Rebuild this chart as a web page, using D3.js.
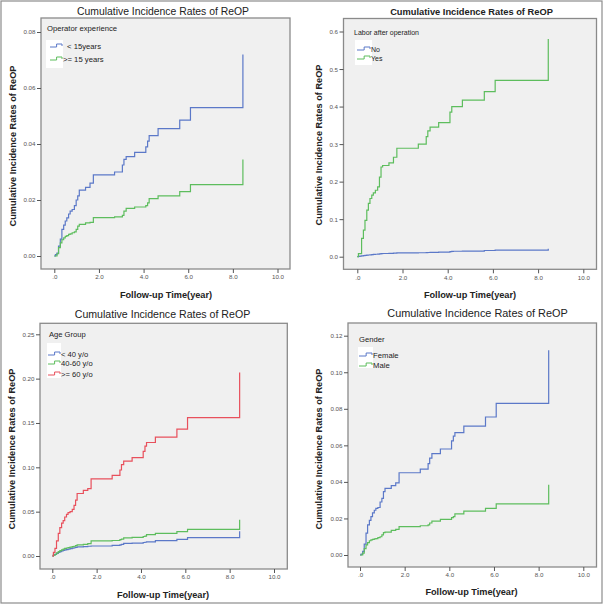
<!DOCTYPE html>
<html>
<head>
<meta charset="utf-8">
<script src="https://cdn.jsdelivr.net/npm/d3@7"></script>
<style>
  body { margin: 0; background: #fff; }
  svg text { font-family: Arial, "Liberation Sans", sans-serif; }
</style>
</head>
<body>
<script>
// event times shared by all curves (years)
const times = [0, 0.05, 0.12, 0.19, 0.27, 0.34, 0.42, 0.49, 0.56, 0.64, 0.71, 0.8, 0.9, 0.98, 1.05, 1.12,
  1.4, 1.6, 1.75, 2.7, 3.05, 3.12, 3.22, 3.6, 4.1, 4.18, 4.25, 4.65, 5.62, 6.1, 8.45];

// operator experience
const opLt15 = [0, 0.0005, 0.001, 0.0035, 0.006, 0.0095, 0.011, 0.0125, 0.0136, 0.015, 0.016, 0.0166, 0.018, 0.020, 0.0215, 0.0235,
  0.0245, 0.026, 0.029, 0.030, 0.0325, 0.0345, 0.0355, 0.037, 0.039, 0.041, 0.043, 0.0455, 0.0485, 0.053, 0.072];
const opGe15 = [0, 0, 0.0008, 0.003, 0.0047, 0.0058, 0.0065, 0.0070, 0.0073, 0.0077, 0.0079, 0.0083, 0.0086, 0.0095, 0.0107, 0.0113,
  0.0118, 0.012, 0.0137, 0.014, 0.0145, 0.016, 0.017, 0.0175, 0.018, 0.019, 0.0205, 0.0215, 0.023, 0.0255, 0.0345];

// labor after operation
const laborNo = [0, 0.001, 0.0015, 0.002, 0.003, 0.0035, 0.004, 0.0045, 0.005, 0.0055, 0.006, 0.0065, 0.007, 0.0075, 0.008, 0.0085,
  0.009, 0.0093, 0.010, 0.0105, 0.011, 0.0112, 0.0115, 0.012, 0.0135, 0.014, 0.0145, 0.015, 0.0165, 0.0175, 0.021];
const laborYes = [0, 0.008, 0.008, 0.049, 0.071, 0.097, 0.124, 0.142, 0.155, 0.164, 0.17, 0.177, 0.186, 0.212, 0.239, 0.243,
  0.25, 0.265, 0.289, 0.30, 0.32, 0.335, 0.345, 0.357, 0.385, 0.40, 0.40, 0.417, 0.44, 0.47, 0.58];

// age group
const ageLt40 = [0, 0.001, 0.0018, 0.003, 0.004, 0.005, 0.0058, 0.0063, 0.0068, 0.0073, 0.0078, 0.0083, 0.0088, 0.0093, 0.0098, 0.0103,
  0.0106, 0.011, 0.0113, 0.012, 0.0125, 0.013, 0.0143, 0.0145, 0.0152, 0.0155, 0.016, 0.0173, 0.0188, 0.0207, 0.028];
const age40to60 = [0, 0.001, 0.002, 0.0035, 0.005, 0.006, 0.007, 0.0078, 0.0085, 0.009, 0.0095, 0.010, 0.0105, 0.011, 0.0118, 0.0125,
  0.013, 0.014, 0.017, 0.0175, 0.0185, 0.019, 0.0205, 0.021, 0.022, 0.0225, 0.024, 0.0255, 0.0275, 0.030, 0.041];
const ageGe60 = [0, 0.004, 0.0086, 0.017, 0.0256, 0.032, 0.037, 0.04, 0.044, 0.047, 0.049, 0.05, 0.0525, 0.057, 0.063, 0.0705,
  0.074, 0.076, 0.087, 0.091, 0.097, 0.103, 0.107, 0.111, 0.118, 0.124, 0.128, 0.134, 0.143, 0.156, 0.207];

// gender
const female = [0, 0.0005, 0.002, 0.006, 0.012, 0.0165, 0.019, 0.021, 0.023, 0.0245, 0.0255, 0.026, 0.029, 0.031, 0.0347, 0.0365,
  0.038, 0.0395, 0.045, 0.047, 0.05, 0.053, 0.0555, 0.058, 0.0625, 0.065, 0.067, 0.0705, 0.0755, 0.083, 0.112];
const male = [0, 0, 0.001, 0.0035, 0.0055, 0.0068, 0.0078, 0.0083, 0.0086, 0.0088, 0.009, 0.0095, 0.010, 0.011, 0.0122, 0.0125,
  0.0135, 0.014, 0.0155, 0.016, 0.0165, 0.0175, 0.0185, 0.0195, 0.0205, 0.021, 0.0225, 0.024, 0.0255, 0.028, 0.0385];

const xTicks = [0, 2, 4, 6, 8, 10];
const yTicks1 = [0, 0.02, 0.04, 0.06, 0.08];
const yTicks2 = [0, 0.1, 0.2, 0.3, 0.4, 0.5, 0.6];
const yTicks3 = [0, 0.05, 0.10, 0.15, 0.20, 0.25];
const yTicks4 = [0, 0.02, 0.04, 0.06, 0.08, 0.10, 0.12];

const BLUE = '#5b78c8', GREEN = '#5dbd5d', RED = '#e8505c';
const TITLE = 'Cumulative Incidence Rates of ReOP';

const panels = [
  { frame: [41, 18, 290, 269], xr: [54.3, 277.5], yr: [256, 32], yTicks: yTicks1, yFmt: '.2f', titleBold: false, titleSize: 10.4,
    title: [163, 15], yTitle: [16, 146], xTitle: [166, 297.5],
    legendTitle: 'Operator experience', lt: [47, 31], lfont: 7.7, box: [46, 40, 17, 28], sx: 50, sw: 12, tx: 67,
    series: [{ name: '< 15years', v: opLt15, c: BLUE, ly: 46 }, { name: '>= 15 years', v: opGe15, c: GREEN, ly: 59, tx: 63 }] },
  { frame: [343.5, 18.5, 596.5, 269.3], xr: [357.3, 583.3], yr: [256.7, 31.5], yTicks: yTicks2, yFmt: '.1f', titleBold: true, titleSize: 9.3,
    title: [471.5, 15], yTitle: [322, 145], xTitle: [470, 297.5],
    legendTitle: 'Labor after operation', lt: [354, 35], lfont: 7, box: [355, 40, 17, 25], sx: 357, sw: 13, tx: 371,
    series: [{ name: 'No', v: laborNo, c: BLUE, ly: 49 }, { name: 'Yes', v: laborYes, c: GREEN, ly: 58 }] },
  { frame: [40, 323.3, 287.3, 569], xr: [52.3, 274], yr: [556, 334.3], yTicks: yTicks3, yFmt: '.2f', titleBold: false, titleSize: 10.6,
    title: [162.5, 318], yTitle: [15, 449], xTitle: [163, 597.5],
    legendTitle: 'Age Group', lt: [49, 337], lfont: 7.6, box: [47, 343, 14, 35], sx: 48, sw: 12, tx: 61,
    series: [{ name: '< 40 y/o', v: ageLt40, c: BLUE, ly: 354 }, { name: '40-60 y/o', v: age40to60, c: GREEN, ly: 363 },
             { name: '>= 60 y/o', v: ageGe60, c: RED, ly: 374 }] },
  { frame: [348, 323, 596.5, 567], xr: [360, 583.3], yr: [555, 335.7], yTicks: yTicks4, yFmt: '.2f', titleBold: false, titleSize: 10.9,
    title: [477.5, 317], yTitle: [322, 449], xTitle: [471.5, 594.5],
    legendTitle: 'Gender', lt: [359, 342], lfont: 7.7, box: [358, 347, 15, 21], sx: 359, sw: 13, tx: 373,
    series: [{ name: 'Female', v: female, c: BLUE, ly: 355 }, { name: 'Male', v: male, c: GREEN, ly: 365 }] }
];

const svg = d3.select('body').append('svg')
  .attr('width', 605)
  .attr('height', 606);

// outer border of the figure
svg.append('rect')
  .attr('x', 1).attr('y', 1).attr('width', 601).attr('height', 602)
  .attr('fill', 'none').attr('stroke', '#8c8c8c').attr('stroke-width', 1.2);

panels.forEach(p => {
  const [fx0, fy0, fx1, fy1] = p.frame;
  const x = d3.scaleLinear().domain([0, 10]).range(p.xr);
  const y = d3.scaleLinear().domain([0, d3.max(p.yTicks)]).range(p.yr);
  const g = svg.append('g');

  g.append('rect')
    .attr('x', fx0).attr('y', fy0).attr('width', fx1 - fx0).attr('height', fy1 - fy0)
    .attr('fill', '#f0f0f0').attr('stroke', '#8a8a8a').attr('stroke-width', 1.3);

  // y axis
  const yAxis = g.append('g')
    .attr('transform', `translate(${fx0},0)`)
    .call(d3.axisLeft(y).tickValues(p.yTicks).tickFormat(d3.format(p.yFmt)).tickSize(4).tickPadding(1.5));
  // x axis
  const xAxis = g.append('g')
    .attr('transform', `translate(0,${fy1})`)
    .call(d3.axisBottom(x).tickValues(xTicks).tickFormat(d => d === 0 ? '.0' : d3.format('.1f')(d)).tickSize(4).tickPadding(2));
  [yAxis, xAxis].forEach(a => {
    a.select('.domain').remove();
    a.selectAll('line').attr('stroke', '#555');
    a.selectAll('text').attr('font-size', 6.2).attr('fill', '#555').attr('font-family', 'Arial, "Liberation Sans", sans-serif');
  });

  // titles
  g.append('text')
    .attr('x', p.title[0]).attr('y', p.title[1])
    .attr('text-anchor', 'middle')
    .attr('font-size', p.titleSize)
    .attr('font-weight', p.titleBold ? 'bold' : 'normal')
    .attr('fill', '#222')
    .text(TITLE);
  g.append('text')
    .attr('transform', `translate(${p.yTitle[0]},${p.yTitle[1]}) rotate(-90)`)
    .attr('text-anchor', 'middle')
    .attr('font-size', 9.2).attr('font-weight', 'bold').attr('fill', '#222')
    .text(TITLE);
  g.append('text')
    .attr('x', p.xTitle[0]).attr('y', p.xTitle[1])
    .attr('text-anchor', 'middle')
    .attr('font-size', 9.2).attr('font-weight', 'bold').attr('fill', '#222')
    .text('Follow-up Time(year)');

  // curves
  const line = d3.line()
    .x(d => x(d[0]))
    .y(d => y(d[1]))
    .curve(d3.curveStepAfter);
  p.series.forEach(s => {
    g.append('path')
      .datum(times.map((t, i) => [t, s.v[i]]))
      .attr('d', line)
      .attr('fill', 'none')
      .attr('stroke', s.c)
      .attr('stroke-width', 1.2);
  });

  // legend
  g.append('rect')
    .attr('x', p.box[0]).attr('y', p.box[1]).attr('width', p.box[2]).attr('height', p.box[3])
    .attr('fill', '#fff');
  g.append('text')
    .attr('x', p.lt[0]).attr('y', p.lt[1])
    .attr('font-size', p.lfont).attr('fill', '#222')
    .text(p.legendTitle);
  p.series.forEach(s => {
    const a = p.sx, w = p.sw;
    g.append('path')
      .attr('d', `M${a},${s.ly + 1}H${a + w * 0.55}V${s.ly - 2}H${a + w}V${s.ly}`)
      .attr('fill', 'none').attr('stroke', s.c).attr('stroke-width', 1);
    g.append('text')
      .attr('x', s.tx || p.tx).attr('y', s.ly + 2.5)
      .attr('font-size', p.lfont).attr('fill', '#222')
      .text(s.name);
  });
});
</script>
</body>
</html>
